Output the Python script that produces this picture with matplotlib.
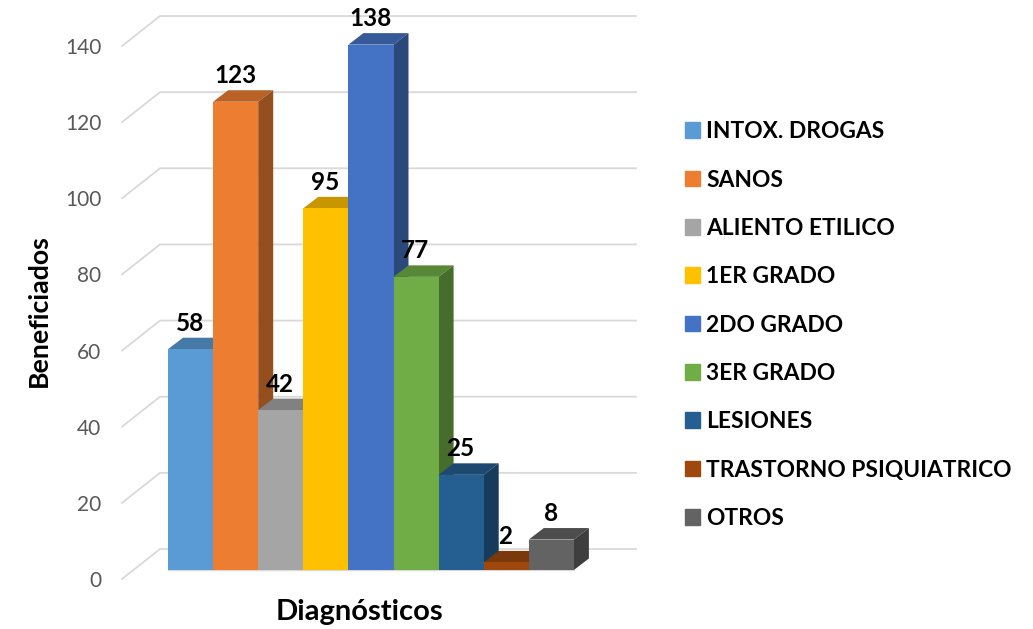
import matplotlib
matplotlib.use('Agg')
import matplotlib.pyplot as plt
from matplotlib.patches import Patch, Polygon
from matplotlib.colors import to_rgb

plt.rcParams['font.family'] = ['Lato', 'DejaVu Sans']

categorias = ['INTOX. DROGAS', 'SANOS', 'ALIENTO ETILICO', '1ER GRADO', '2DO GRADO',
              '3ER GRADO', 'LESIONES', 'TRASTORNO PSIQUIATRICO', 'OTROS']
valores = [58, 123, 42, 95, 138, 77, 25, 2, 8]
colores = ['#5B9BD5', '#ED7D31', '#A5A5A5', '#FFC000', '#4472C4',
           '#70AD47', '#255E91', '#9E480E', '#636363']
ticks = [0, 20, 40, 60, 80, 100, 120, 140]

W, H = 1033, 629
PX_Y = 3.807   # pixeles por beneficiado
PX_X = 45.1    # ancho de barra
BASE_PX = 579
IZQ, DER = 122, 636


def oscuro(c, f):
    return tuple(v * f for v in to_rgb(c))


fig = plt.figure(figsize=(W / 100, H / 100), dpi=100)
ax = fig.add_axes([IZQ / W, (H - BASE_PX) / H, (DER - IZQ) / W, BASE_PX / H])
ax.set_xlim((IZQ - 168) / PX_X, (DER - 168) / PX_X)
ax.set_ylim(0, BASE_PX / PX_Y)

# pared y piso falso 3D
x0 = ax.get_xlim()[0]
x1 = ax.get_xlim()[1]
pared_x = x0 + 38 / PX_X
pared_y = 30 / PX_Y
for t in ticks:
    ax.plot([x0, pared_x, x1], [t, t + pared_y, t + pared_y], color='#D9D9D9', lw=1.3,
            zorder=1, clip_on=False, solid_joinstyle='miter')

# barras con profundidad
base = 9 / PX_Y
dx = 15 / PX_X
dy = 11.5 / PX_Y
for i, (v, c) in enumerate(zip(valores, colores)):
    z = 2 + i
    tope = base + v
    ax.bar(i, v, width=1, bottom=base, align='edge', color=c, zorder=z + 0.5)
    ax.add_patch(Polygon([(i, tope), (i + dx, tope + dy), (i + 1 + dx, tope + dy), (i + 1, tope)],
                         color=oscuro(c, 0.78), lw=0, zorder=z))
    ax.add_patch(Polygon([(i + 1, base), (i + 1 + dx, base + dy), (i + 1 + dx, tope + dy), (i + 1, tope)],
                         color=oscuro(c, 0.63), lw=0, zorder=z))
    ax.annotate(str(v), (i + 0.5, tope), xytext=(-0.5, 18.7), textcoords='offset points',
                ha='center', va='center', fontsize=17.5, fontweight='bold', color='black', zorder=20)
ax.plot([0, len(valores)], [base, base], color='#D9D9D9', lw=1, zorder=1.5)

for s in ax.spines.values():
    s.set_visible(False)
ax.set_xticks([])
ax.set_yticks(ticks)
ax.tick_params(axis='y', length=0, pad=15, labelsize=15, labelcolor='#595959')

ax.set_xlabel('Diagnósticos', fontsize=21, fontweight='bold')
ax.xaxis.set_label_coords((359 - IZQ) / (DER - IZQ), (BASE_PX - 612) / BASE_PX, transform=ax.transAxes)
ax.xaxis.label.set_va('center')
ax.set_ylabel('Beneficiados', fontsize=19.3, fontweight='bold')
ax.yaxis.set_label_coords((39 - IZQ) / (DER - IZQ), (BASE_PX - 311) / BASE_PX, transform=ax.transAxes)
ax.yaxis.label.set_va('center')

handles = [Patch(color=c, label=n) for c, n in zip(colores, categorias)]
fig.legend(handles=handles, loc='center left', bbox_to_anchor=(685 / W, 1 - 325 / H), frameon=False,
           prop={'size': 16.4, 'weight': 'bold'}, handlelength=0.66, handleheight=0.66,
           handletextpad=0.26, labelspacing=1.2, borderpad=0, borderaxespad=0, labelcolor='black')

fig.savefig('out.png', dpi=100)
